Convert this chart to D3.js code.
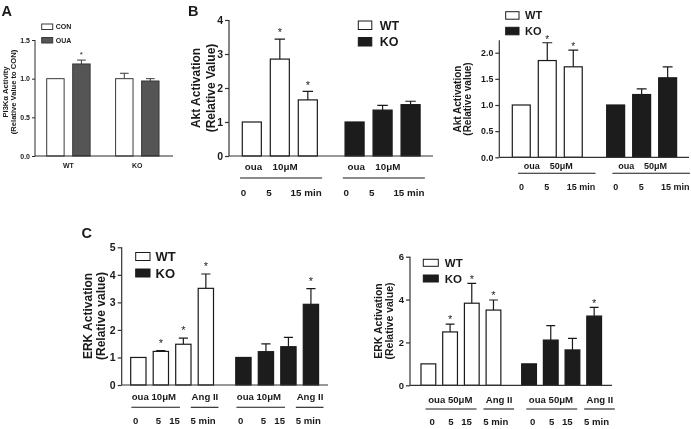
<!DOCTYPE html>
<html><head><meta charset="utf-8">
<script src="https://cdn.jsdelivr.net/npm/d3@7"></script>
<style>
body{margin:0;background:#fff}
svg{display:block;will-change:transform}
text{font-family:"Liberation Sans",Arial,sans-serif;font-weight:bold;fill:#1a1a1a}
</style>
</head><body>
<svg id="c" width="691" height="429"></svg>
<script>
// ---------- DATA ----------
// Panel A: PI3Kα activity
const groupsA = ["WT", "KO"];
const seriesA = ["CON", "OUA"];
const pi3kCON = [1.00, 1.00];
const pi3kCONErr = [0.00, 0.07];
const pi3kOUA = [1.19, 0.97];
const pi3kOUAErr = [0.05, 0.03];
const pi3kSig = [[false, true], [false, false]];
const ticksA = [0.0, 0.5, 1.0, 1.5];

// Panel B: Akt activation
const genotypes = ["WT", "KO"];
const aktTimes = ["0", "5", "15 min"];
const akt10Dose = ["oua", "10μM"];
const akt10WT = [1.00, 2.85, 1.65];
const akt10WTErr = [0.00, 0.59, 0.25];
const akt10WTSig = [false, true, true];
const akt10KO = [1.00, 1.35, 1.51];
const akt10KOErr = [0.00, 0.14, 0.10];
const akt10KOSig = [false, false, false];
const ticksAkt10 = [0, 1, 2, 3, 4];

const akt50Dose = ["oua", "50μM"];
const akt50WT = [1.00, 1.85, 1.73];
const akt50WTErr = [0.00, 0.34, 0.32];
const akt50WTSig = [false, true, true];
const akt50KO = [1.00, 1.20, 1.52];
const akt50KOErr = [0.00, 0.11, 0.21];
const akt50KOSig = [false, false, false];
const ticksAkt50 = [0.0, 0.5, 1.0, 1.5, 2.0];

// Panel C: ERK activation
const erkTimes = ["0", "5", "15", "5 min"];
const erk10Treat = ["oua 10μM", "Ang II"];
const erk10WT = [1.00, 1.22, 1.48, 3.51];
const erk10WTErr = [0.00, 0.03, 0.22, 0.52];
const erk10WTSig = [false, true, true, true];
const erk10KO = [1.00, 1.21, 1.39, 2.93];
const erk10KOErr = [0.00, 0.28, 0.34, 0.57];
const erk10KOSig = [false, false, false, true];
const ticksErk10 = [0, 1, 2, 3, 4, 5];

const erk50Treat = ["oua 50μM", "Ang II"];
const erk50WT = [1.00, 2.49, 3.83, 3.51];
const erk50WTErr = [0.00, 0.36, 0.93, 0.47];
const erk50WTSig = [false, true, true, true];
const erk50KO = [1.00, 2.11, 1.65, 3.23];
const erk50KOErr = [0.00, 0.67, 0.54, 0.41];
const erk50KOSig = [false, false, false, true];
const ticksErk50 = [0, 2, 4, 6];

// ---------- DRAWING ----------
const svg = d3.select("#c");
const INK = "#1a1a1a";
const KOFILL = "#1c1c1c";

function panel(cfg) {
  const g = svg.append("g");
  const y = d3.scaleLinear().domain([0, cfg.yMax]).range([cfg.y0, cfg.yTop]);
  const x = d3.scaleLinear().domain([0, 1]).range([cfg.firstBar, cfg.firstBar + cfg.step]);
  const bwPx = x(cfg.bw) - x(0);

  const bars = [];
  cfg.groups.forEach((grp, gi) => {
    grp.values.forEach((v, i) => {
      bars.push({gi, i, v, e: grp.errs[i], sig: grp.sig[i],
        fill: grp.fills ? grp.fills[i] : grp.fill,
        stroke: cfg.barStroke,
        slot: gi * cfg.groupOffset + i});
    });
  });

  // error bars (upper only)
  g.selectAll(".err").data(bars.filter(d => d.e > 0)).join("path")
    .attr("d", d => {
      const cx = x(d.slot) + bwPx / 2;
      const cw = bwPx * cfg.cap / 2;
      return `M${cx},${y(d.v)}V${y(d.v + d.e)}M${cx - cw},${y(d.v + d.e)}H${cx + cw}`;
    })
    .attr("stroke", cfg.errColor).attr("stroke-width", cfg.lw).attr("fill", "none");

  g.selectAll(".bar").data(bars).join("rect")
    .attr("x", d => x(d.slot))
    .attr("y", d => y(d.v))
    .attr("width", bwPx)
    .attr("height", d => y(0) - y(d.v))
    .attr("fill", d => d.fill)
    .attr("stroke", d => d.stroke)
    .attr("stroke-width", cfg.lw);

  // significance stars
  g.selectAll(".star").data(bars.filter(d => d.sig)).join("text")
    .attr("x", d => x(d.slot) + bwPx / 2)
    .attr("y", d => y(d.v + d.e) - cfg.starGap + 0.57 * cfg.starFs)
    .attr("text-anchor", "middle")
    .attr("fill", "#222")
    .style("fill", "#222")
    .style("font-size", cfg.starFs + "px")
    .style("font-weight", "normal")
    .text("*");

  // y axis
  const ax = d3.axisLeft(y).tickValues(cfg.ticks).tickSize(cfg.tickLen).tickSizeOuter(0)
    .tickPadding(cfg.tickPad).tickFormat(cfg.fmt);
  const ag = g.append("g").attr("transform", `translate(${cfg.axisX},0)`).call(ax);
  ag.select(".domain").remove();
  ag.selectAll("line").attr("stroke", cfg.axisColor).attr("stroke-width", cfg.lw);
  ag.selectAll("text").style("font-size", cfg.tickFs + "px").attr("fill", INK)
    .style("font-family", '"Liberation Sans",Arial,sans-serif').style("font-weight", "bold");
  g.append("line").attr("x1", cfg.axisX).attr("x2", cfg.axisX)
    .attr("y1", y(0)).attr("y2", y(cfg.axisTop !== undefined ? cfg.axisTop : cfg.yMax))
    .attr("stroke", cfg.axisColor).attr("stroke-width", cfg.lw);
  // x axis baseline
  g.append("line").attr("x1", cfg.axisX).attr("x2", cfg.xEnd)
    .attr("y1", y(0)).attr("y2", y(0))
    .attr("stroke", cfg.axisColor).attr("stroke-width", cfg.lw);

  // y title
  cfg.title.forEach((t, k) => {
    g.append("text")
      .attr("transform", `translate(${cfg.titleX[k] + 0.35 * cfg.titleFs},${cfg.titleY}) rotate(-90)`)
      .attr("text-anchor", "middle")
      .style("font-size", cfg.titleFs + "px")
      .text(t);
  });

  // legend
  cfg.legend.items.forEach((it, k) => {
    const L = cfg.legend;
    g.append("rect").attr("x", L.x).attr("y", L.y + k * L.dy)
      .attr("width", L.w).attr("height", L.h)
      .attr("fill", it.fill).attr("stroke", L.stroke).attr("stroke-width", 1);
    g.append("text").attr("x", L.x + L.w + L.gap).attr("y", L.y + k * L.dy + L.h / 2 + 0.36 * L.fs)
      .style("font-size", L.fs + "px").text(it.label);
  });

  // labels below the axis
  if (cfg.under) {
    cfg.groups.forEach((grp, gi) => {
      cfg.under.forEach(row => {
        if (row.type === "text") {
          row.labels.forEach((lab, k) => {
            g.append("text")
              .attr("x", x(gi * cfg.groupOffset + row.pos[k]))
              .attr("y", row.y + 0.35 * row.fs)
              .attr("text-anchor", "middle")
              .style("font-size", row.fs + "px")
              .text(lab);
          });
        } else {
          row.spans.forEach(sp => {
            g.append("line")
              .attr("x1", x(gi * cfg.groupOffset + sp[0]))
              .attr("x2", x(gi * cfg.groupOffset + sp[1]))
              .attr("y1", row.y).attr("y2", row.y)
              .attr("stroke", INK).attr("stroke-width", 1.1);
          });
        }
      });
    });
  }
  return {x, y};
}

function letter(t, x, y) {
  svg.append("text").attr("x", x).attr("y", y).style("font-size", "14.5px").text(t);
}

// ---------- Panel A ----------
const pA = panel({
  y0: 156, yTop: 40, yMax: 1.5, ticks: ticksA, fmt: d3.format(".1f"),
  axisX: 35, xEnd: 173, firstBar: 46.7, step: 26, bw: 0.67, groupOffset: 2.65,
  barStroke: "#3a3a3a", errColor: "#3a3a3a", axisColor: "#2a2a2a", lw: 1, cap: 0.5,
  tickLen: 3, tickPad: 2, tickFs: 7,
  starFs: 8, starGap: 8,
  groups: groupsA.map((gname, gi) => ({
    values: [pi3kCON[gi], pi3kOUA[gi]],
    errs: [pi3kCONErr[gi], pi3kOUAErr[gi]],
    sig: pi3kSig[gi],
    fills: ["#ffffff", "#555555"]
  })),
  title: ["PI3Kα Activity", "(Relative Value to CON)"], titleX: [5, 13.5], titleY: 92, titleFs: 7.6,
  legend: {x: 41.7, y: 24, w: 11, h: 5.5, dy: 13.5, gap: 3, fs: 7, stroke: "#3a3a3a",
    items: [{label: seriesA[0], fill: "#ffffff"}, {label: seriesA[1], fill: "#555555"}]}
});
groupsA.forEach((gname, gi) => {
  svg.append("text")
    .attr("x", pA.x(gi * 2.65 + (1 + 0.67) / 2))
    .attr("y", 167.5)
    .attr("text-anchor", "middle")
    .style("font-size", "7px")
    .text(gname);
});
letter("A", 1.5, 15.5);

// ---------- Panel B left ----------
panel({
  y0: 156, yTop: 20, yMax: 4, ticks: ticksAkt10, fmt: d3.format("d"),
  axisX: 229, xEnd: 433, firstBar: 242.3, step: 28, bw: 0.68, groupOffset: 3.67,
  barStroke: INK, errColor: INK, axisColor: "#333", lw: 1.2, cap: 0.55,
  tickLen: 4, tickPad: 2, tickFs: 10.5,
  starFs: 11, starGap: 9,
  groups: [
    {values: akt10WT, errs: akt10WTErr, sig: akt10WTSig, fill: "#ffffff"},
    {values: akt10KO, errs: akt10KOErr, sig: akt10KOSig, fill: KOFILL}
  ],
  title: ["Akt Activation", "(Relative Value)"], titleX: [196, 210.5], titleY: 88, titleFs: 12,
  legend: {x: 358.3, y: 21, w: 13.5, h: 8.5, dy: 16.5, gap: 8, fs: 12.5, stroke: INK,
    items: [{label: genotypes[0], fill: "#ffffff"}, {label: genotypes[1], fill: KOFILL}]},
  under: [
    {type: "text", labels: akt10Dose, pos: [0.40, 1.53], y: 166.5, fs: 9.8},
    {type: "line", spans: [[-0.08, 2.85]], y: 178},
    {type: "text", labels: aktTimes, pos: [0.04, 0.95, 2.28], y: 193, fs: 9.8}
  ]
});
letter("B", 188, 15.5);

// ---------- Panel B right ----------
panel({
  y0: 157.3, yTop: 52.7, yMax: 2.0, axisTop: 2.24, ticks: ticksAkt50, fmt: d3.format(".1f"),
  axisX: 499.3, xEnd: 689, firstBar: 512.3, step: 26, bw: 0.69, groupOffset: 3.63,
  barStroke: INK, errColor: INK, axisColor: "#333", lw: 1.2, cap: 0.55,
  tickLen: 4, tickPad: 2, tickFs: 8.8,
  starFs: 10, starGap: 5.5,
  groups: [
    {values: akt50WT, errs: akt50WTErr, sig: akt50WTSig, fill: "#ffffff"},
    {values: akt50KO, errs: akt50KOErr, sig: akt50KOSig, fill: KOFILL}
  ],
  title: ["Akt Activation", "(Relative value)"], titleX: [457.5, 467.5], titleY: 99, titleFs: 10,
  legend: {x: 505.7, y: 11.7, w: 13.3, h: 7.5, dy: 15.6, gap: 6, fs: 11, stroke: INK,
    items: [{label: genotypes[0], fill: "#ffffff"}, {label: genotypes[1], fill: KOFILL}]},
  under: [
    {type: "text", labels: akt50Dose, pos: [0.75, 1.88], y: 165.7, fs: 9},
    {type: "line", spans: [[0.22, 3.2]], y: 173.3},
    {type: "text", labels: aktTimes, pos: [0.35, 1.33, 2.64], y: 186.7, fs: 9}
  ]
});

// ---------- Panel C left ----------
panel({
  y0: 385, yTop: 247.3, yMax: 5, ticks: ticksErk10, fmt: d3.format("d"),
  axisX: 121.7, xEnd: 328, firstBar: 130.7, step: 22.5, bw: 0.68, groupOffset: 4.67,
  barStroke: INK, errColor: INK, axisColor: "#333", lw: 1.2, cap: 0.6,
  tickLen: 4, tickPad: 2, tickFs: 10.5,
  starFs: 11, starGap: 10,
  groups: [
    {values: erk10WT, errs: erk10WTErr, sig: erk10WTSig, fill: "#ffffff"},
    {values: erk10KO, errs: erk10KOErr, sig: erk10KOSig, fill: KOFILL}
  ],
  title: ["ERK Activation", "(Relative value)"], titleX: [88, 100.5], titleY: 316, titleFs: 12,
  legend: {x: 135.7, y: 252.5, w: 14.3, h: 8, dy: 16.5, gap: 5.5, fs: 13, stroke: INK,
    items: [{label: genotypes[0], fill: "#ffffff"}, {label: genotypes[1], fill: KOFILL}]},
  under: [
    {type: "text", labels: erk10Treat, pos: [1.03, 3.3], y: 396.7, fs: 9.6},
    {type: "line", spans: [[0.03, 2.19], [2.67, 3.9]], y: 407.3},
    {type: "text", labels: erkTimes, pos: [0.22, 1.23, 1.95, 3.22], y: 420.7, fs: 9.6}
  ]
});
letter("C", 81.5, 237.5);

// ---------- Panel C right ----------
panel({
  y0: 385.3, yTop: 256.7, yMax: 6, ticks: ticksErk50, fmt: d3.format("d"),
  axisX: 410, xEnd: 612, firstBar: 421, step: 21.7, bw: 0.68, groupOffset: 4.64,
  barStroke: INK, errColor: INK, axisColor: "#333", lw: 1.2, cap: 0.6,
  tickLen: 4, tickPad: 2, tickFs: 9.5,
  starFs: 11, starGap: 7,
  groups: [
    {values: erk50WT, errs: erk50WTErr, sig: erk50WTSig, fill: "#ffffff"},
    {values: erk50KO, errs: erk50KOErr, sig: erk50KOSig, fill: KOFILL}
  ],
  title: ["ERK Activation", "(Relative value)"], titleX: [378.5, 389.5], titleY: 321, titleFs: 10.5,
  legend: {x: 423.3, y: 259.3, w: 15, h: 7, dy: 15.7, gap: 6.5, fs: 11.5, stroke: INK,
    items: [{label: genotypes[0], fill: "#ffffff"}, {label: genotypes[1], fill: KOFILL}]},
  under: [
    {type: "text", labels: erk50Treat, pos: [1.35, 3.6], y: 400, fs: 9.6},
    {type: "line", spans: [[0.21, 2.56], [2.88, 4.29]], y: 409},
    {type: "text", labels: erkTimes, pos: [0.51, 1.38, 2.1, 3.45], y: 422, fs: 9.6}
  ]
});
</script>
</body></html>
